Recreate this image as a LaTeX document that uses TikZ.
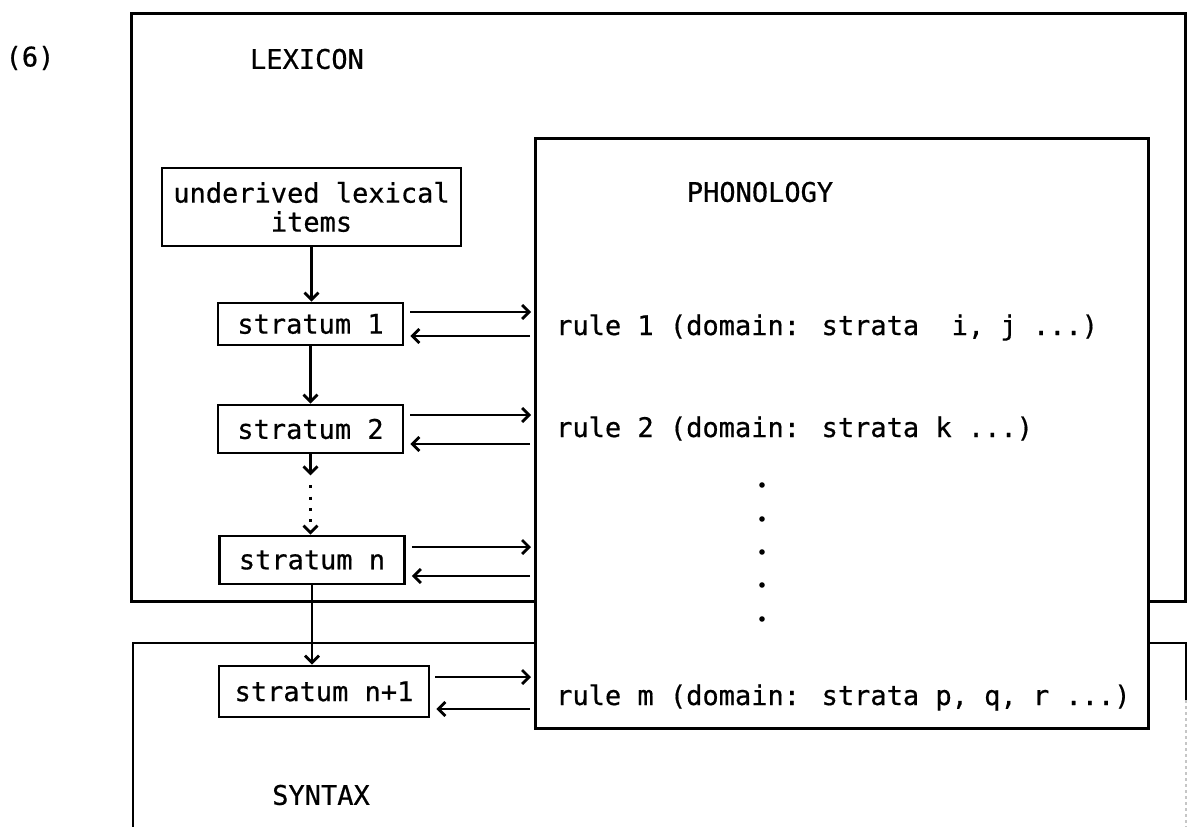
\documentclass[tikz,border=0pt]{standalone}
\usepackage{fontspec}
\newfontfamily\typew[FakeBold=0.6]{DejaVu Sans Mono}
\usetikzlibrary{arrows.meta,calc}
\begin{document}
\begin{tikzpicture}[x=1pt,y=-1pt,
  lw/.style={line width=2.8pt},
  tw/.style={font=\typew\fontsize{27}{29}\selectfont},
  box/.style={draw,lw,tw,inner sep=0pt,align=center},
  txt/.style={tw,inner sep=0pt},
  arr/.style={lw,-{Straight Barb[length=7pt,width=14pt,line width=2.8pt]}},
  region/.style={draw,lw,inner sep=0pt,anchor=north west},
]
\useasboundingbox (0,0) rectangle (1187,827);
% LEXICON region
\node[region,minimum width=1054,minimum height=588] (lex) at (130,12) {};
% SYNTAX region (open at the bottom)
\draw[lw] (133,827) -- (133,643) -- (1186,643) -- (1186,700);
\draw[lw,gray!45,dashed] (1186,700) -- (1186,827);
% PHONOLOGY region
\node[region,fill=white,minimum width=613,minimum height=590] (phon) at (534,137) {};

% labels
\node[txt] (six) at (30,58) {(6)};
\node[txt] (lexl) at (307,59) {LEXICON};
\node[txt] (phonl) at (760,192) {PHONOLOGY};
\node[txt] (synl) at (321,795) {SYNTAX};

% rules
\node[txt,anchor=base west] (r1) at (556,335) {rule 1 (domain: strata\ \ i, j ...)};
\node[txt,anchor=base west] (r2) at (556,437) {rule 2 (domain: strata k ...)};
\node[txt,anchor=base west] (rm) at (556,705) {rule m (domain: strata p, q, r ...)};
\foreach \yy in {485,519,552,585,619} \fill (762,\yy) circle (2.8);

% strata
\node[box,minimum width=299,minimum height=78] (und) at (311.5,207) {underived lexical\\items};
\node[box,minimum width=185,minimum height=42] (s1) at (310.5,324) {stratum 1};
\node[box,minimum width=185,minimum height=48] (s2) at (310.5,429) {stratum 2};
\node[box,minimum width=185,minimum height=48] (sn) at (312,560) {stratum n};
\node[box,minimum width=210,minimum height=51] (sn1) at (324,691.5) {stratum n+1};

% vertical flow
\draw[arr] (und.south) -- (und.south |- s1.north);
\draw[arr] (s1.south) -- (s2.north);
\coordinate (d1) at ($(s2.south)+(0,21)$);
\coordinate (d2) at ($(d1)+(0,10)$);
\draw[arr] (s2.south) -- (d1);
\draw[arr,dash pattern=on 2.8pt off 8.5pt] (d2) -- (d2 |- sn.north);
\draw[arr] (sn.south) -- (sn.south |- sn1.north);

% exchanges with phonology
\draw[arr] ($(s1.east)+(6,-12)$) -- ($(s1.east -| phon.west)+(-3,-12)$);
\draw[arr] ($(s1.east -| phon.west)+(-4,12)$) -- ($(s1.east)+(6,12)$);
\draw[arr] ($(s2.east)+(6,-14)$) -- ($(s2.east -| phon.west)+(-3,-14)$);
\draw[arr] ($(s2.east -| phon.west)+(-4,15)$) -- ($(s2.east)+(6,15)$);
\draw[arr] ($(sn.east)+(6,-13)$) -- ($(sn.east -| phon.west)+(-3,-13)$);
\draw[arr] ($(sn.east -| phon.west)+(-4,16)$) -- ($(sn.east)+(6,16)$);
\draw[arr] ($(sn1.east)+(5,-14.5)$) -- ($(sn1.east -| phon.west)+(-3,-14.5)$);
\draw[arr] ($(sn1.east -| phon.west)+(-4,17.5)$) -- ($(sn1.east)+(6,17.5)$);
\end{tikzpicture}
\end{document}
